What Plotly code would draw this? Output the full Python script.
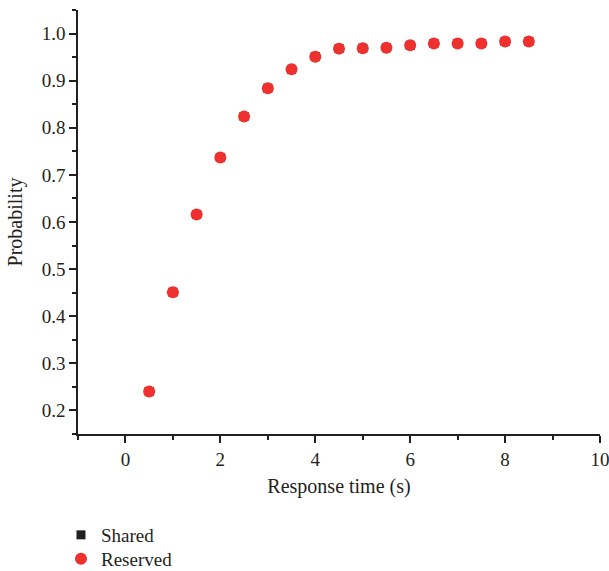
import plotly.graph_objects as go

response_time = [0.5, 1.0, 1.5, 2.0, 2.5, 3.0, 3.5, 4.0, 4.5, 5.0, 5.5, 6.0, 6.5, 7.0, 7.5, 8.0, 8.5]
shared = [0.240, 0.451, 0.616, 0.737, 0.824, 0.884, 0.924, 0.951, 0.968, 0.969, 0.970, 0.975, 0.979, 0.979, 0.979, 0.983, 0.983]
reserved = [0.240, 0.451, 0.616, 0.737, 0.824, 0.884, 0.924, 0.951, 0.968, 0.969, 0.970, 0.975, 0.979, 0.979, 0.979, 0.983, 0.983]

FONT = "Liberation Serif"
fig = go.Figure()
fig.add_trace(go.Scatter(x=response_time, y=shared, mode="markers", name="Shared", legend="legend",
                         marker=dict(symbol="square", size=9, color="#231f20")))
fig.add_trace(go.Scatter(x=response_time, y=reserved, mode="markers", name="Reserved", legend="legend2",
                         marker=dict(symbol="circle", size=12, color="#ee302e")))

axis_common = dict(showline=True, linecolor="#231f20", linewidth=1.5, ticks="outside",
                   ticklen=7, tickwidth=1.5, tickcolor="#231f20", showgrid=False, zeroline=False,
                   automargin=False, ticklabeloverflow="allow",
                   tickfont=dict(family=FONT, size=19, color="#231f20"))
fig.update_xaxes(range=[-1, 10], dtick=2, tick0=0,
                 minor=dict(ticks="outside", dtick=1, tick0=-1, ticklen=4, tickwidth=1.5, tickcolor="#231f20"),
                 title=dict(text="Response time (s)", font=dict(family=FONT, size=20, color="#231f20"), standoff=10),
                 **axis_common)
fig.update_yaxes(range=[0.15, 1.05], dtick=0.1, tick0=0.2, tickformat=".1f",
                 minor=dict(ticks="outside", dtick=0.1, tick0=0.15, ticklen=4, tickwidth=1.5, tickcolor="#231f20"),
                 title=dict(text="Probability", font=dict(family=FONT, size=20, color="#231f20"), standoff=14),
                 **axis_common)
legend_common = dict(xanchor="left", yanchor="middle",
                     font=dict(family=FONT, size=19, color="#231f20"),
                     itemwidth=30, bgcolor="rgba(0,0,0,0)")
fig.update_layout(width=609, height=571, plot_bgcolor="white", paper_bgcolor="white",
                  margin=dict(l=78, r=9, t=10, b=137, autoexpand=False),
                  legend=dict(x=-0.0326, y=-0.2382, **legend_common),
                  legend2=dict(x=-0.0326, y=-0.2948, **legend_common),
                  showlegend=True)
fig.write_html("out.html", config={"displayModeBar": False},
               post_script="document.body.style.margin='0';document.body.style.overflow='hidden';")
